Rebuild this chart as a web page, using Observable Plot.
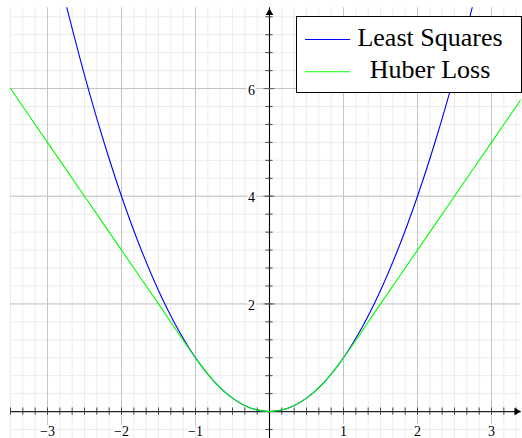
<!DOCTYPE html>
<html>
<head>
<meta charset="utf-8">
<script src="https://cdn.jsdelivr.net/npm/d3@7"></script>
<script src="https://cdn.jsdelivr.net/npm/@observablehq/plot@0.6"></script>
<style>
  html, body { margin: 0; padding: 0; background: white; }
  #chart { position: relative; width: 522px; height: 438px; overflow: hidden; }
  #legend { position: absolute; left: 296px; top: 16px; }
</style>
</head>
<body>
<div id="chart"></div>
<script>
// Axis limits and labelled ticks
const xDomain = [-3.5, 3.4];
const yDomain = [-0.5, 7.5];
const xTicks = [-3, -2, -1, 1, 2, 3];
const yTicks = [2, 4, 6];
const minorPerMajor = 6; // five minor ticks between majors

// Least squares loss, sampled
const lsX = [-2.75, -2.5, -2.25, -2, -1.75, -1.5, -1.25, -1, -0.75, -0.5, -0.25, 0,
             0.25, 0.5, 0.75, 1, 1.25, 1.5, 1.75, 2, 2.25, 2.5, 2.75];
const lsY = [7.5625, 6.25, 5.0625, 4, 3.0625, 2.25, 1.5625, 1, 0.5625, 0.25, 0.0625, 0,
             0.0625, 0.25, 0.5625, 1, 1.5625, 2.25, 3.0625, 4, 5.0625, 6.25, 7.5625];

// Huber loss (delta = 1), sampled
const hX = [-3.5, -3, -2.5, -2, -1.5, -1, -0.75, -0.5, -0.25, 0,
            0.25, 0.5, 0.75, 1, 1.5, 2, 2.5, 3, 3.5];
const hY = [6, 5, 4, 3, 2, 1, 0.5625, 0.25, 0.0625, 0,
            0.0625, 0.25, 0.5625, 1, 2, 3, 4, 5, 6];

const seriesNames = ["Least Squares", "Huber Loss"];
const seriesColors = ["#0000ff", "#00ff00"];

const lsData = lsX.map((x, i) => ({x, y: lsY[i]}));
const hData = hX.map((x, i) => ({x, y: hY[i]}));

// Minor ticks: subdivide unit (x) and 2-unit (y) major steps
function minorTicks(domain, step) {
  const out = [];
  const d = step / minorPerMajor;
  const start = Math.ceil(domain[0] / d - 1e-9);
  const stop = Math.floor(domain[1] / d + 1e-9);
  for (let k = start; k <= stop; k++) out.push(+(k * d).toFixed(6));
  return out;
}
const xMinor = minorTicks(xDomain, 1);
const yMinor = minorTicks(yDomain, 2);
const xMajorAll = xMinor.filter(v => Math.abs(v - Math.round(v)) < 1e-6);
const yMajorAll = yMinor.filter(v => Math.abs(v / 2 - Math.round(v / 2)) < 1e-6);

const fmt = v => (v < 0 ? "\u2212" + Math.abs(v) : String(v));
const labelFont = "Liberation Serif, Times New Roman, serif";

const plot = Plot.plot({
  width: 522,
  height: 438,
  marginLeft: 10,
  marginRight: 1.4,
  marginTop: 7.3,
  marginBottom: 0,
  x: {domain: xDomain, axis: null},
  y: {domain: yDomain, axis: null},
  style: {background: "white", fontFamily: labelFont},
  marks: [
    // minor grid
    Plot.ruleX(xMinor, {x: d => d, stroke: "#ececec", strokeWidth: 1}),
    Plot.ruleY(yMinor, {y: d => d, stroke: "#ececec", strokeWidth: 1}),
    // major grid
    Plot.ruleX(xMajorAll.filter(v => v !== 0), {x: d => d, stroke: "#c4c4c4", strokeWidth: 1}),
    Plot.ruleY(yMajorAll.filter(v => v !== 0), {y: d => d, stroke: "#c4c4c4", strokeWidth: 1}),
    // axis lines through the origin
    Plot.ruleY([0], {y: d => d, stroke: "#222", strokeWidth: 1.1}),
    Plot.ruleX([0], {x: d => d, stroke: "black", strokeWidth: 1.1}),
    // tick marks crossing the axes
    Plot.ruleX(xMinor.filter(v => v !== 0), {x: d => d, y1: () => 0, y2: () => 0,
      insetTop: -3.6, insetBottom: -3.6, stroke: "#333", strokeWidth: 0.9}),
    Plot.ruleY(yMinor.filter(v => v !== 0), {y: d => d, x1: () => 0, x2: () => 0,
      insetLeft: -3.6, insetRight: -3.6, stroke: "#333", strokeWidth: 0.9}),
    Plot.ruleY(yTicks, {y: d => d, x1: () => 0, x2: () => 0,
      insetLeft: -5.5, insetRight: -5.5, stroke: "#666", strokeWidth: 1}),
    // arrow heads at the axis ends
    Plot.dot([yDomain[1]], {x: () => 0, y: d => d, symbol: "triangle", r: 2.8,
      fill: "black", stroke: "none", dy: 5}),
    Plot.dot([xDomain[1]], {x: d => d, y: () => 0, symbol: "triangle", r: 2.8,
      rotate: 90, fill: "black", stroke: "none", dx: -4.5}),
    // tick labels on a white backing
    Plot.text(xTicks, {x: d => d, y: () => 0, text: fmt, dy: 19.5,
      fontSize: 14, fill: "black", stroke: "white", strokeWidth: 4, paintOrder: "stroke"}),
    Plot.text(yTicks, {x: () => 0, y: d => d, text: fmt, dx: -14.5, dy: 1.5,
      textAnchor: "end", fontSize: 14, fill: "black", stroke: "white", strokeWidth: 4,
      paintOrder: "stroke"}),
    // loss curves
    Plot.line(lsData, {x: "x", y: "y", stroke: seriesColors[0], strokeWidth: 1.1,
      curve: "catmull-rom", clip: true}),
    Plot.line(hData, {x: "x", y: "y", stroke: seriesColors[1], strokeWidth: 1.1,
      curve: "catmull-rom", clip: true})
  ]
});

// tick label size set as CSS so it wins over inherited defaults
d3.select(plot).selectAll("text").style("font-size", "14px");

const chart = document.getElementById("chart");
chart.appendChild(plot);

// Legend box in the upper right corner
const lw = 226, lh = 77;
const legend = d3.select(chart).append("svg")
  .attr("id", "legend")
  .attr("width", lw)
  .attr("height", lh);
legend.append("rect")
  .attr("x", 0.5).attr("y", 0.5)
  .attr("width", lw - 1).attr("height", lh - 1)
  .attr("fill", "white").attr("stroke", "black").attr("stroke-width", 1);
const rows = legend.selectAll("g.row")
  .data(seriesNames)
  .join("g")
  .attr("class", "row")
  .attr("transform", (d, i) => `translate(0,${i * 32.3})`);
rows.append("line")
  .attr("x1", 9).attr("x2", 54)
  .attr("y1", 23.5).attr("y2", 23.5)
  .attr("stroke", (d, i) => seriesColors[i])
  .attr("stroke-width", 1.1);
rows.append("text")
  .attr("x", 134)
  .attr("y", 30)
  .attr("text-anchor", "middle")
  .attr("font-family", labelFont)
  .attr("font-size", 26)
  .attr("fill", "black")
  .text(d => d);
</script>
</body>
</html>
